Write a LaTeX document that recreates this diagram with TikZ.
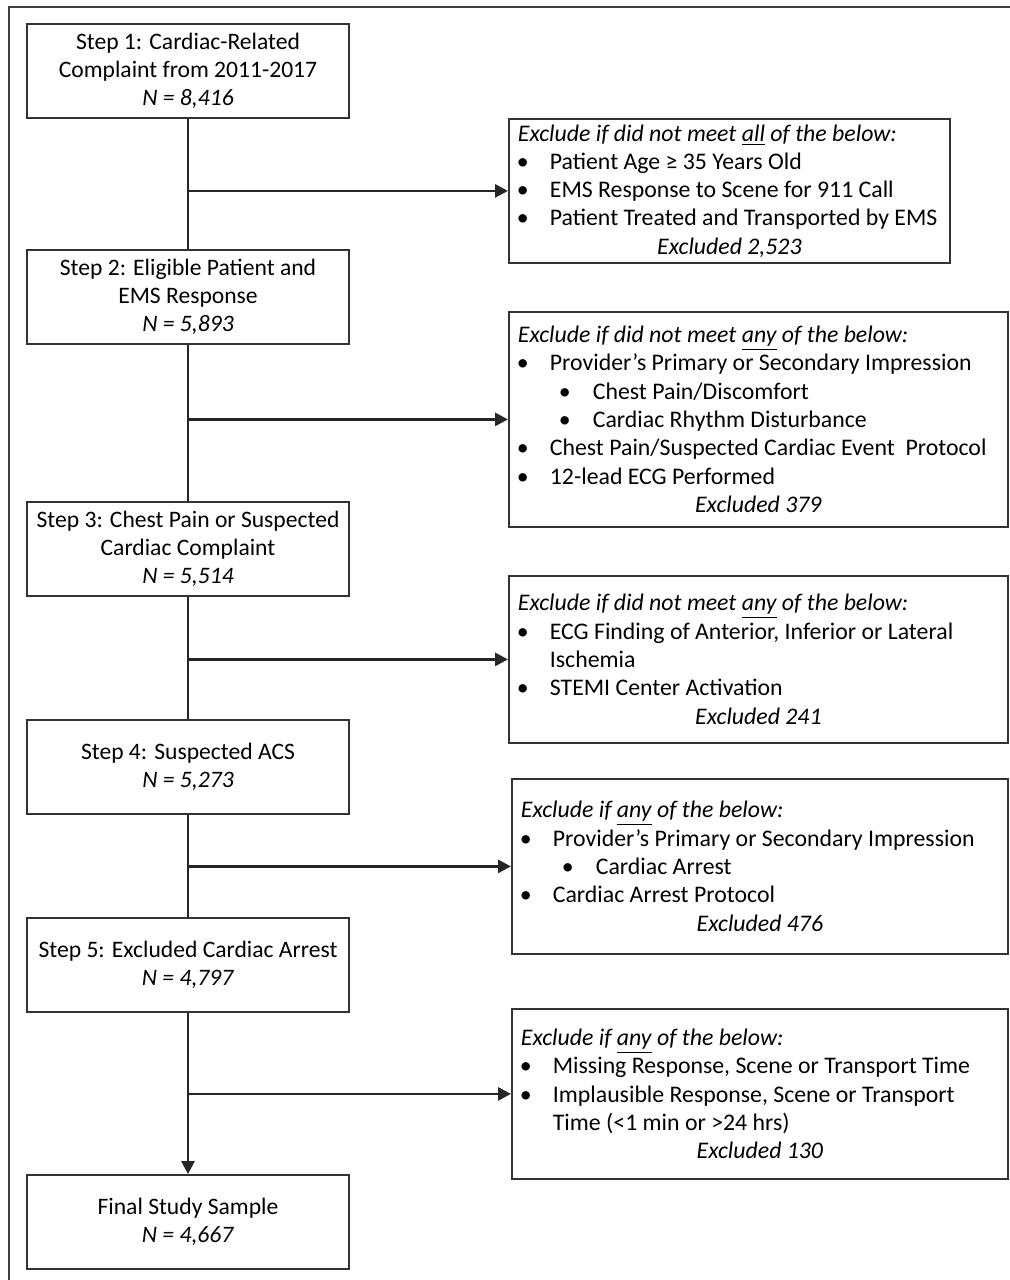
\documentclass[tikz,border=0pt]{standalone}
\usepackage{fontspec}
\setmainfont{Carlito}
\usetikzlibrary{arrows.meta}
\newcommand{\bul}[1]{\makebox[16pt][l]{\hspace{-0.5pt}\textbullet}\mbox{#1}}
\newcommand{\subbul}[1]{\hspace*{20.5pt}\makebox[17pt][l]{\textbullet}\mbox{#1}}
\newcommand{\cont}[1]{\hspace*{16pt}#1}
\newcommand{\excl}[1]{\makebox[\hsize][c]{\textit{Excluded #1}}}

\begin{document}
\begin{tikzpicture}[x=0.5pt, y=-0.5pt,
  font=\fontsize{11.8}{14.15}\selectfont,
  stepbox/.style={draw=black!80, line width=0.9pt, minimum width=161pt, minimum height=47pt, align=center, inner sep=1pt},
  exclbox/.style={draw=black!80, line width=0.9pt, align=flush left, anchor=north west, inner xsep=4.5pt, inner ysep=1pt,
    font=\fontsize{11.9}{14.15}\selectfont},
  flow/.style={black!85, line width=1.4pt},
  >={Triangle[length=6.5pt, width=6.5pt]}]
\useasboundingbox (0,0) rectangle (1010,1280);
\clip (0,0) rectangle (1010,1280);
\draw[black!75, line width=1pt] (9,7) rectangle (1020,1290);

% steps
\node[stepbox] (s1) at (188,71) {Step 1: Cardiac-Related\\Complaint from 2011-2017\\\textit{N = 8,416}};
\node[stepbox] (s2) at (188,297) {Step 2: Eligible Patient and\\EMS Response\\\textit{N = 5,893}};
\node[stepbox] (s3) at (188,549) {Step 3: Chest Pain or Suspected\\Cardiac Complaint\\\textit{N = 5,514}};
\node[stepbox] (s4) at (188,767) {Step 4: Suspected ACS\\\textit{N = 5,273}};
\node[stepbox] (s5) at (188,965) {Step 5: Excluded Cardiac Arrest\\\textit{N = 4,797}};
\node[stepbox] (s6) at (188,1222) {Final Study Sample\\\textit{N = 4,667}};

% exclusions
\node[exclbox, text width=211.5pt, minimum height=72pt] (x1) at (508,118) {%
\textit{Exclude if did not meet \underline{all} of the below:}\\
\bul{Patient Age ≥ 35 Years Old}\\
\bul{EMS Response to Scene for 911 Call}\\
\bul{Patient Treated and Transported by EMS}\\
\excl{2,523}};
\node[exclbox, text width=240.5pt, minimum height=107.5pt] (x2) at (508,311) {%
\textit{Exclude if did not meet \underline{any} of the below:}\\
\bul{Provider’s Primary or Secondary Impression}\\
\subbul{Chest Pain/Discomfort}\\
\subbul{Cardiac Rhythm Disturbance}\\
\bul{Chest Pain/Suspected Cardiac Event\ \ Protocol}\\
\bul{12-lead ECG Performed}\\
\excl{379}};
\node[exclbox, text width=240.5pt, minimum height=83.5pt] (x3) at (508,575) {%
\textit{Exclude if did not meet \underline{any} of the below:}\\
\bul{ECG Finding of Anterior, Inferior or Lateral}\\
\cont{Ischemia}\\
\bul{STEMI Center Activation}\\
\excl{241}};
\node[exclbox, text width=239pt, minimum height=87.5pt] (x4) at (511,778) {%
\textit{Exclude if \underline{any} of the below:}\\
\bul{Provider’s Primary or Secondary Impression}\\
\subbul{Cardiac Arrest}\\
\bul{Cardiac Arrest Protocol}\\
\excl{476}};
\node[exclbox, text width=239pt, minimum height=85pt] (x5) at (511,1008) {%
\textit{Exclude if \underline{any} of the below:}\\
\bul{Missing Response, Scene or Transport Time}\\
\bul{Implausible Response, Scene or Transport}\\
\cont{Time (<1 min or >24 hrs)}\\
\excl{130}};

% arrows
\foreach \a/\b/\x in {s1/s2/x1, s2/s3/x2, s3/s4/x3, s4/s5/x4} {
  \draw[flow] (\a) -- (\b);
  \draw[flow,->] (\a |- \x.west) -- (\x.west);
}
\draw[flow,->] (s5) -- (s6);
\draw[flow,->] (s5 |- x5.west) -- (x5.west);
\end{tikzpicture}
\end{document}
